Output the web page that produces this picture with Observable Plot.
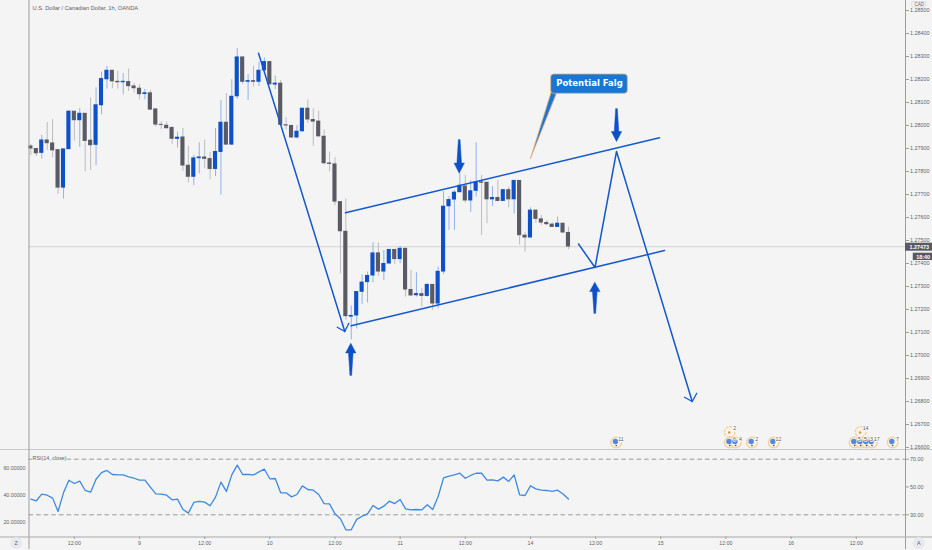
<!DOCTYPE html>
<html>
<head>
<meta charset="utf-8">
<script src="https://cdn.jsdelivr.net/npm/d3@7"></script>
<script src="https://cdn.jsdelivr.net/npm/@observablehq/plot@0.6"></script>
<style>
html,body{margin:0;padding:0;background:#f4f4f4;overflow:hidden}
#wrap{position:relative;width:932px;height:550px;background:#f4f4f4}
#wrap>div,#wrap>svg{position:absolute;left:0}
</style>
</head>
<body>
<div id="wrap"><div id="main" style="top:0"></div><div id="rsi" style="top:450px"></div></div>
<script>
// prices in 1e-5 units
const opens=[127910,127899,127880,127936,127923,127894,127729,127896,128061,128022,128052,127935,127915,128087,128200,128239,128191,128187,128190,128171,128161,128136,128141,128071,128004,128000,127990,127941,127949,127826,127776,127857,127862,127855,127810,127884,128013,127916,128126,128297,128189,128194,128189,128239,128277,128177,128183,128002,127999,127947,127974,128074,128025,128018,127952,127836,127832,127668,127539,127168,127173,127276,127318,127347,127445,127364,127399,127460,127418,127465,127286,127261,127268,127258,127308,127225,127364,127648,127677,127709,127736,127673,127715,127754,127752,127678,127686,127671,127720,127678,127760,127522,127512,127631,127593,127577,127570,127558,127574,127534];
const highs=[127916,127899,127957,128013,128026,127894,127899,128065,128061,128074,128052,128120,128164,128232,128257,128239,128236,128226,128246,128184,128178,128157,128152,128071,128016,128015,127996,127971,127987,127910,127870,127925,127936,127883,127987,128109,128139,128199,128335,128297,128222,128258,128275,128294,128277,128215,128196,128034,128002,128000,128074,128112,128073,128063,127981,127884,127860,127668,127681,127216,127277,127350,127363,127490,127489,127457,127460,127460,127474,127465,127370,127360,127292,127312,127308,127384,127713,127691,127718,127790,127783,127761,127925,127783,127752,127735,127761,127720,127732,127760,127760,127535,127642,127631,127609,127587,127578,127602,127574,127558];
const lows=[127870,127865,127854,127891,127860,127700,127680,127896,127932,127905,127800,127805,127825,128047,128158,128160,128158,128133,128148,128141,128112,128112,128068,127993,127981,127986,127918,127902,127800,127750,127738,127790,127812,127764,127778,127697,127913,127913,128113,128178,128109,128167,128170,128233,128178,128157,128002,127981,127944,127942,127970,128010,127909,127947,127828,127799,127651,127355,127153,127068,127116,127222,127228,127316,127344,127326,127396,127396,127399,127254,127257,127254,127210,127254,127196,127203,127352,127544,127544,127708,127662,127622,127689,127522,127573,127648,127668,127671,127642,127616,127480,127449,127512,127573,127565,127565,127557,127557,127529,127460];
const closes=[127899,127878,127936,127922,127891,127729,127897,128061,128022,128052,127932,127913,128089,128203,128239,128191,128187,128191,128170,128161,128135,128141,128068,128003,128002,127987,127941,127948,127825,127776,127858,127862,127854,127810,127886,128013,127916,128126,128297,128189,128194,128189,128239,128277,128178,128183,128002,127999,127947,127974,128074,128025,128016,127952,127835,127832,127668,127539,127170,127173,127277,127318,127347,127445,127364,127399,127460,127418,127465,127286,127260,127268,127258,127308,127225,127365,127648,127677,127709,127739,127673,127715,127754,127750,127678,127686,127671,127720,127678,127760,127522,127512,127631,127593,127577,127570,127558,127574,127534,127473];
const rsiValues=[41.3,40.1,44.9,44.1,42,32.4,45.8,54.9,52.5,54.2,47.5,46.3,55.6,60.4,61.9,59,58.7,58.7,57.3,56.3,54.9,54.9,49.9,45.1,44.9,44.1,40.8,41.3,33.8,31.2,38.9,39.6,39.1,36.5,42.7,53.5,46.8,58.7,65.7,59,59,58.7,60.9,62.8,55.9,56.1,45.8,45.8,42.9,44.6,50.8,48.2,47.7,44.6,38.1,37.9,30.7,27.1,19.2,19.2,26.7,29,30.7,36.7,34.1,36.2,39.8,38.1,41,34.3,33.6,33.8,33.6,37.2,33.8,43.2,56.6,57.8,58.7,59.9,56.3,58.3,59.9,59.9,54.9,55.2,54.4,57.1,54,58.7,44.4,43.9,50.8,48.7,47.7,47.5,46.8,47.7,44.9,41.3];

const priceTicks=[1.285,1.284,1.283,1.282,1.281,1.28,1.279,1.278,1.277,1.276,1.275,1.274,1.273,1.272,1.271,1.27,1.269,1.268,1.267,1.266];
const timeTicks=[8,20,32,44,56,68,80,92,104,116,128,140,152];
const timeLabels=["12:00","9","12:00","10","12:00","11","12:00","14","12:00","15","12:00","16","12:00"];
const lastPrice=1.27473;

// drawings (bar index, price)
const downLegI=[41.92,57.81], downLegP=[1.283143,1.271043];
const downHeadI=[56.41,57.81,58.55], downHeadP=[1.27123,1.271043,1.271404];
const topChanI=[57.94,115.76], topChanP=[1.276204,1.279465];
const botChanI=[58.99,116.69], botChanP=[1.271291,1.274565];
const projI=[100.85,103.89,107.85,121.79], projP=[1.274848,1.273826,1.27887,1.268];
const projHeadI=[120.37,121.79,122.63], projHeadP=[1.268187,1.268,1.268361];
const arrowI=[78.88,58.91,107.85,103.85];
const arrowTail=[1.279391,1.26913,1.280739,1.271826];
const arrowTip=[1.277926,1.270535,1.279304,1.273187];

// callout
const noteText="Potential Falg";
const noteBox={i1:95.82,i2:109.93,p1:1.282217,p2:1.281378};
const noteTailI=[92.0,95.9,96.8,92.0], noteTailP=[1.278565,1.281522,1.28141,1.278565];

// events
const eventI=[107.8,128.7,129.8,132.8,136.8,151.7,152.8,153.9,154.9,158.7];
const eventN=["11","6","4","2","12","5","5","3","17","7"];
const eventP=1.266217;
const upperI=[128.7,152.8], upperN=["2","14"], upperP=1.266674;

const rsiLeftLabels=["60.00000","40.00000","20.00000"], rsiLeftAt=[63.3,43.9,24.5];
const rsiRight=[70,50,30], rsiDashed=[70,30];

const BLUE="#0d50c8", DARK="#5a5a64", LINE="#1458cf", AXIS="#9c9c9c", TXT="#63636a", BG="#f4f4f4";
const FONT="'Liberation Sans',Arial,sans-serif";
const candles=opens.map((o,i)=>({i,o:o/1e5,h:highs[i]/1e5,l:lows[i]/1e5,c:closes[i]/1e5,up:closes[i]>=o}));
const pts=(I,P)=>I.map((x,k)=>({i:x,p:P[k]}));
const xDomain=[-0.35,161.07];
const xEnd=166.1;
const xStart=-5.6;

function bigArrow(k){
  const c=arrowI[k],t=arrowTail[k],h=arrowTip[k],s=(h-t)*0.7+t;
  return [[c-0.15,t],[c-0.42,s],[c-0.95,s],[c,h],[c+0.95,s],[c+0.42,s],[c+0.15,t]].map(([i,p])=>({i,p}));
}
const polyline=(d,o)=>Plot.line(d,{x:"i",y:"p",curve:"linear",...o});

const main=Plot.plot({
  width:932,height:450,marginTop:0,marginBottom:0,marginLeft:28.5,marginRight:27,
  x:{domain:xDomain,axis:null},
  y:{domain:[1.26587,1.285435],axis:null},
  style:{background:BG,fontFamily:FONT,color:TXT},
  marks:[
    Plot.axisY({anchor:"right",ticks:priceTicks,tickFormat:d3.format(".5f"),tickSize:3,tickPadding:1.5,fontSize:5.4,label:null,stroke:AXIS}),
    Plot.ruleY([lastPrice],{stroke:"#d4d4d4",strokeWidth:1}),
    Plot.ruleX(candles,{x:"i",y1:"l",y2:"h",stroke:d=>d.up?"#8fb3ea":"#bcbcc0",strokeWidth:1}),
    Plot.rect(candles,{x1:d=>d.i-0.38,x2:d=>d.i+0.38,y1:d=>Math.min(d.o,d.c),y2:d=>Math.max(d.o,d.c),fill:d=>d.up?BLUE:DARK,insetTop:-0.25,insetBottom:-0.25}),
    polyline(pts(downLegI,downLegP),{stroke:LINE,strokeWidth:1.5}),
    polyline(pts(downHeadI,downHeadP),{stroke:LINE,strokeWidth:1.3}),
    polyline(pts(topChanI,topChanP),{stroke:LINE,strokeWidth:1.5}),
    polyline(pts(botChanI,botChanP),{stroke:LINE,strokeWidth:1.5}),
    polyline(pts(projI,projP),{stroke:LINE,strokeWidth:1.5}),
    polyline(pts(projHeadI,projHeadP),{stroke:LINE,strokeWidth:1.3}),
    ...arrowI.map((_,k)=>polyline(bigArrow(k),{fill:BLUE,stroke:BLUE,strokeWidth:0.5})),
    // callout
    polyline(pts(noteTailI,noteTailP),{fill:"#1976d2",stroke:"#e2b27c",strokeWidth:0.8}),
    Plot.rect([noteBox],{x1:"i1",x2:"i2",y1:"p1",y2:"p2",fill:"#1976d2",stroke:"#e2b27c",strokeWidth:0.8,rx:3}),
    Plot.text([noteText],{x:(noteBox.i1+noteBox.i2)/2,y:(noteBox.p1+noteBox.p2)/2,dy:-0.5,fill:"#fff",fontWeight:"bold",fontSize:8.5,fontFamily:"'DejaVu Sans',sans-serif"}),
    // events (upper row)
    Plot.dot(upperI,{x:d=>d,y:upperP,r:5.3,fill:"#fbf3e4",stroke:"#f3d2a4",strokeWidth:1.5,strokeDasharray:"3,1"}),
    Plot.dot(upperI,{x:d=>d,y:upperP,r:1.2,fill:"#c09860",dx:-0.5,dy:0.5}),
    // events (lower row)
    Plot.dot(eventI,{x:d=>d,y:eventP,r:5.3,fill:"#f8f4ee",stroke:"#f3d2a4",strokeWidth:1.5}),
    Plot.dot(eventI,{x:d=>d,y:eventP,r:2.7,fill:"#5288e0",dx:-0.8,dy:-1}),
    Plot.dot(eventI,{x:d=>d,y:eventP,r:0.8,fill:"#444",dy:3}),
    Plot.text(upperN,{x:(d,k)=>upperI[k],y:upperP,dx:5,dy:-3.5,fontSize:5.3,fill:"#555",stroke:"#fff",strokeWidth:1.5}),
    Plot.text(eventN,{x:(d,k)=>eventI[k],y:eventP,dx:4.8,dy:-3.5,fontSize:5.3,fill:"#555",stroke:"#fff",strokeWidth:1.5}),
    // frame
    Plot.ruleX([xDomain[0]],{stroke:AXIS,strokeWidth:1}),
    Plot.ruleX([xDomain[1]],{stroke:AXIS,strokeWidth:1}),
    Plot.ruleY([1.265891],{x1:xStart,x2:xEnd,stroke:AXIS,strokeWidth:1.2}),
    // price labels
    Plot.rect([0],{x1:xDomain[1],x2:xEnd,y1:1.274535,y2:1.274883,fill:DARK}),
    Plot.rect([0],{x1:162.5,x2:xEnd,y1:1.27413,y2:1.274448,fill:DARK}),
    Plot.text([lastPrice.toFixed(5)],{x:163.6,y:1.27471,fill:"#fff",fontSize:5.4,fontWeight:"bold"}),
    Plot.text(["18:40"],{x:164.3,y:1.27429,fill:"#fff",fontSize:5.4,fontWeight:"bold"}),
    // CAD button
    Plot.rect([0],{x1:162.3,x2:164.9,y1:1.28513,y2:1.28537,fill:BG,stroke:"#cfcfcf",strokeWidth:0.6,rx:1.5}),
    Plot.text(["CAD"],{x:163.6,y:1.28525,fontSize:4.6,fill:TXT}),
    // title
    Plot.text(["U.S. Dollar / Canadian Dollar, 1h, OANDA"],{frameAnchor:"top-left",dx:3.5,dy:5.5,fontSize:5.7,fill:"#5f5f66",fontWeight:"500"})
  ]
});
document.getElementById("main").appendChild(main);

const rsi=Plot.plot({
  width:932,height:100,marginTop:0,marginBottom:13.5,marginLeft:28.5,marginRight:27,
  x:{domain:xDomain,axis:null},
  y:{domain:[14.03,76.26],axis:null},
  style:{background:BG,fontFamily:FONT,color:TXT},
  marks:[
    Plot.axisX({ticks:timeTicks,tickFormat:i=>timeLabels[timeTicks.indexOf(i)],tickSize:2.5,tickPadding:1.5,fontSize:5.3,label:null,stroke:AXIS}),
    Plot.axisY({anchor:"right",ticks:rsiRight,tickFormat:d=>d.toFixed(2),tickSize:3,tickPadding:1.5,fontSize:5.4,label:null,stroke:AXIS}),
    Plot.ruleY(rsiDashed,{stroke:"#999",strokeWidth:1,strokeDasharray:"4.6,3"}),
    Plot.line(rsiValues,{x:(d,k)=>k,y:d=>d,stroke:"#3c8ae0",strokeWidth:1.3,curve:"linear"}),
    Plot.text(rsiLeftLabels,{x:xDomain[0],y:(d,k)=>rsiLeftAt[k],dx:-3.5,textAnchor:"end",fontSize:5.3,fill:TXT}),
    Plot.text(["RSI(14, close)"],{frameAnchor:"top-left",dx:3.5,dy:5.5,fontSize:5.4,fill:TXT,stroke:BG,strokeWidth:2}),
    Plot.ruleX([xDomain[0]],{y1:14.03,y2:76.26,stroke:AXIS,strokeWidth:1}),
    Plot.ruleX([xDomain[1]],{y1:14.03,y2:76.26,stroke:AXIS,strokeWidth:1}),
    Plot.ruleX([xDomain[0],xDomain[1]],{y1:14.03,y2:5,stroke:AXIS,strokeWidth:1}),
    Plot.ruleY([14.03],{x1:xStart,x2:xEnd,stroke:"#a8a8a8",strokeWidth:1}),
    Plot.dot(["Z"],{x:-2.7,y:9.7,r:6,fill:"#e7e9ef"}),
    Plot.text(["Z"],{x:-2.7,y:9.7,fontSize:5.3,fill:TXT}),
    Plot.dot(["A"],{x:163.5,y:9.7,r:6,fill:"#e7e9ef"}),
    Plot.text(["A"],{x:163.5,y:9.7,fontSize:5.3,fill:TXT})
  ]
});
document.getElementById("rsi").appendChild(rsi);
</script>
</body>
</html>
